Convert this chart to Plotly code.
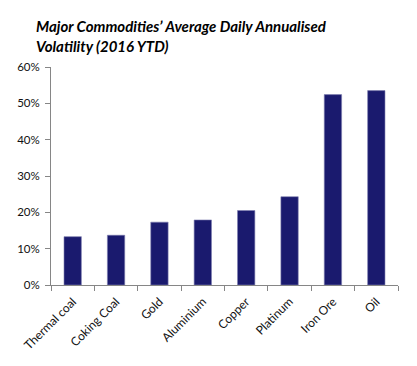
import plotly.graph_objects as go

commodities = ["Thermal coal", "Coking Coal", "Gold", "Aluminium", "Copper", "Platinum", "Iron Ore", "Oil"]
volatility = [0.133, 0.137, 0.173, 0.179, 0.205, 0.243, 0.524, 0.535]
title_text = "Major Commodities\u2019 Average Daily Annualised<br>Volatility (2016 YTD)"

fig = go.Figure(go.Bar(
    x=commodities, y=volatility,
    marker=dict(color="#1a1a6e", line=dict(color="#8080b0", width=0.6)),
    width=0.4,
))

fig.update_layout(
    width=417, height=366,
    margin=dict(l=51, r=19, t=67, b=81),
    paper_bgcolor="white", plot_bgcolor="white",
    showlegend=False,
    font=dict(family="Lato", color="#111111"),
    annotations=[dict(
        text="<b><i>" + title_text + "</i></b>",
        xref="paper", yref="paper", x=-17 / 347, y=1 + 52 / 218,
        xanchor="left", yanchor="top", align="left", showarrow=False,
        font=dict(family="Lato", size=15, color="black"),
    )],
)

fig.update_yaxes(range=[0, 0.6], dtick=0.1, tickformat=".0%", showgrid=False,
                 showline=True, linecolor="#868686", linewidth=1,
                 ticks="outside", ticklen=5, tickcolor="#868686",
                 ticklabelstandoff=3,
                 tickfont=dict(size=11.5, color="#111111"), zeroline=False)
fig.update_xaxes(showgrid=False, showline=True, linecolor="#868686", linewidth=1,
                 ticks="outside", ticklen=5, tickcolor="#868686", tickson="boundaries",
                 ticklabelstandoff=4,
                 tickangle=-45, tickfont=dict(size=12, color="#111111"))

fig.write_html("out.html", config={"displayModeBar": False},
               post_script="document.body.style.margin='0';")
